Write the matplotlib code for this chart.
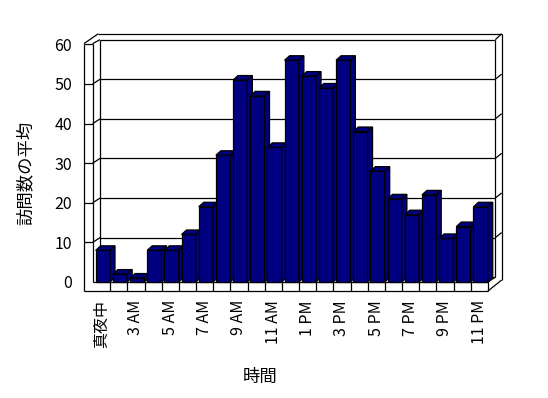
import matplotlib
matplotlib.use('Agg')
import matplotlib.pyplot as plt
from matplotlib.patches import Polygon

plt.rcParams['font.family'] = ['Noto Sans CJK JP', 'DejaVu Sans']

# Data =====================================================
hours = ['真夜中', '2 AM', '3 AM', '4 AM', '5 AM', '6 AM', '7 AM', '8 AM',
         '9 AM', '10 AM', '11 AM', '正午', '1 PM', '2 PM', '3 PM', '4 PM',
         '5 PM', '6 PM', '7 PM', '8 PM', '9 PM', '10 PM', '11 PM']
visits = [8, 2, 1, 8, 8, 12, 19, 32, 51, 47, 34, 56, 52, 49, 56, 38,
          28, 21, 17, 22, 11, 14, 19]
y_ticks = [0, 10, 20, 30, 40, 50, 60]
y_label = '訪問数の平均'
x_label = '時間'

# Layout (pixels of the 548x398 picture) ===================
W, H = 548, 398
PX_CAT = 17.17      # pixels per category
PX_VAL = 3.96       # pixels per unit of value
BAR_FACE = '#000080'
LW = 0.9

fig = plt.figure(figsize=(W / 100, H / 100), dpi=100)
ax = fig.add_axes([84 / W, 1 - 291 / H, (501.7 - 84) / W, (291 - 33.7) / H])
x_lo = -0.5 - (93 - 84) / PX_CAT
x_hi = -0.5 + (501.7 - 93) / PX_CAT
y_lo = -(291 - 282) / PX_VAL
y_hi = (282 - 33.7) / PX_VAL
ax.set_xlim(x_lo, x_hi)
ax.set_ylim(y_lo, y_hi)

n = len(visits)
left_in = -0.52            # inner edge of the side wall
right_fl = n - 0.5         # right end of the floor
bx, by = 0.43, 1.2         # depth offset to the back wall
top_back = y_ticks[-1] + by
top_front = y_ticks[-1] + 0.2
right_back = right_fl + bx


def line(xs, ys, z=1):
    ax.plot(xs, ys, color='black', lw=LW, zorder=z, clip_on=False,
            solid_capstyle='butt')


# Walls and floor ==========================================
# side wall (front slab)
line([x_lo, x_lo], [y_lo, top_front])
line([left_in, left_in], [0, top_front])
line([x_lo, left_in], [top_front, top_front])
line([left_in, left_in + bx], [top_front, top_back])
line([x_lo, -0.19], [top_front, y_hi])
# back wall
line([left_in + bx, left_in + bx], [by, top_back])
line([left_in + bx, right_back], [top_back, top_back])
line([-0.19, x_hi], [y_hi, y_hi])
line([right_back, x_hi], [top_back, y_hi])
line([right_back, right_back], [by, top_back])
line([x_hi, x_hi], [0.5, y_hi])
# floor
line([x_lo, right_fl], [y_lo, y_lo])
line([left_in, right_fl], [0, 0])
line([right_fl, right_fl], [y_lo, 0])
line([right_fl, right_back], [0, by])
line([right_fl, x_hi], [y_lo, 0.5])
line([left_in + bx, right_back], [by, by])
for i in range(n - 1):
    line([i + 0.5, i + 0.5], [y_lo, 0])

# gridlines and wall ticks
for v in y_ticks[1:-1]:
    line([left_in + bx, right_back], [v + by, v + by])
    line([x_lo, left_in], [v, v])
    line([left_in, left_in + bx], [v, v + by])
    line([right_back, x_hi], [v + by, v + by + 1.3])

# Bars =====================================================
bw = 0.833
off = -0.343
dx, dy = 5 / PX_CAT, 4.5 / PX_VAL
bars = ax.bar([i + off for i in range(n)], visits, width=bw, align='edge',
              color=BAR_FACE, edgecolor='black', linewidth=LW)
for i, (b, v) in enumerate(zip(bars, visits)):
    z = 3 + i
    b.set_zorder(z)
    xl = i + off
    xr = xl + bw
    top = Polygon([(xl, v), (xr, v), (xr + dx, v + dy), (xl + dx, v + dy)],
                  closed=True, facecolor=BAR_FACE, edgecolor='black',
                  lw=LW, zorder=z, joinstyle='miter')
    side = Polygon([(xr, 0), (xr + dx, dy), (xr + dx, v + dy), (xr, v)],
                   closed=True, facecolor=BAR_FACE, edgecolor='black',
                   lw=LW, zorder=z, joinstyle='miter')
    ax.add_patch(top)
    ax.add_patch(side)

# Axes text ================================================
for s in ax.spines.values():
    s.set_visible(False)
ax.set_yticks(y_ticks)
ax.set_yticklabels([str(t) for t in y_ticks])
ax.set_xticks(list(range(0, n, 2)))
ax.set_xticklabels(hours[::2], rotation=90)
ax.tick_params(axis='y', length=0, pad=8.6, labelsize=11.5)
ax.tick_params(axis='x', length=0, pad=6.5, labelsize=11.5)

fig.text(26 / W, 1 - 173 / H, y_label, rotation=90, ha='center',
         va='center', fontsize=12.5)
fig.text(260 / W, 1 - 377 / H, x_label, ha='center', va='center',
         fontsize=12.5)

fig.savefig('out.png', dpi=100, facecolor='white')
